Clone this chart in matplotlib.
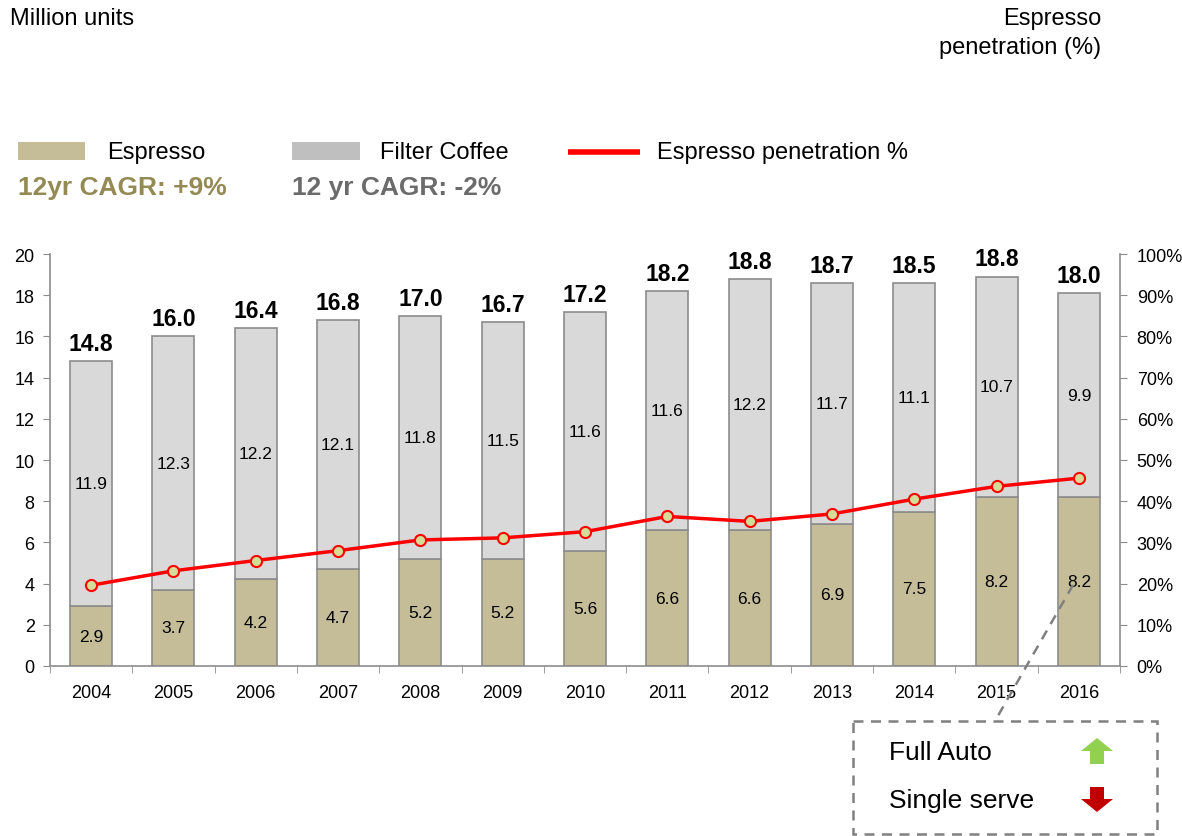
import numpy as np
import matplotlib
matplotlib.use("Agg")
from matplotlib import pyplot as plt
from matplotlib.patches import Rectangle, Polygon

plt.rcParams['font.family'] = ['Liberation Sans', 'DejaVu Sans']

years = ['2004', '2005', '2006', '2007', '2008', '2009', '2010',
         '2011', '2012', '2013', '2014', '2015', '2016']
espresso = [2.9, 3.7, 4.2, 4.7, 5.2, 5.2, 5.6, 6.6, 6.6, 6.9, 7.5, 8.2, 8.2]
filter_coffee = [11.9, 12.3, 12.2, 12.1, 11.8, 11.5, 11.6, 11.6, 12.2, 11.7, 11.1, 10.7, 9.9]
totals = [14.8, 16.0, 16.4, 16.8, 17.0, 16.7, 17.2, 18.2, 18.8, 18.7, 18.5, 18.8, 18.0]
penetration = [19.6, 23.1, 25.6, 28.0, 30.6, 31.1, 32.6, 36.3, 35.1, 36.9, 40.5, 43.6, 45.6]

esp_col = '#c4bd97'
fil_col = '#d9d9d9'
edge_col = '#8c8c8c'
axis_col = '#8c8c8c'

fig = plt.figure(figsize=(11.82, 8.37), dpi=100)
ax = fig.add_axes([50 / 1182, 1 - 667 / 837, 1070 / 1182, 412 / 837])

x = np.arange(len(years))
w = 0.51
ax.bar(x, espresso, w, color=esp_col, edgecolor=edge_col, linewidth=1.2, zorder=2)
ax.bar(x, filter_coffee, w, bottom=espresso, color=fil_col, edgecolor=edge_col, linewidth=1.2, zorder=2)

for i in range(len(years)):
    ax.text(x[i], espresso[i] / 2, f'{espresso[i]:.1f}', ha='center', va='center', fontsize=12.5, zorder=4)
    ax.text(x[i], espresso[i] + filter_coffee[i] / 2, f'{filter_coffee[i]:.1f}', ha='center', va='center',
            fontsize=12.5, zorder=4)
    ax.text(x[i], espresso[i] + filter_coffee[i] + 0.3, f'{totals[i]:.1f}', ha='center', va='bottom',
            fontsize=16.5, fontweight='bold', zorder=4)

ax.set_xlim(-0.5, len(years) - 0.5)
ax.set_ylim(0, 20)
ax.set_yticks(np.arange(0, 21, 2))
ax.set_xticks(x)
ax.set_xticklabels(years)
ax.set_xticks(np.arange(-0.5, len(years), 1), minor=True)
ax.tick_params(axis='x', which='major', length=0, pad=13, labelsize=13)
ax.tick_params(axis='x', which='minor', length=5, color=axis_col, direction='out')
ax.tick_params(axis='y', length=5, color=axis_col, labelsize=13, pad=6)
for s in ['top', 'right']:
    ax.spines[s].set_visible(False)
for s in ['left', 'bottom']:
    ax.spines[s].set_color(axis_col)
    ax.spines[s].set_linewidth(1.2)

ax2 = ax.twinx()
ax2.set_ylim(0, 100)
ax2.set_yticks(np.arange(0, 101, 10))
ax2.set_yticklabels([f'{v}%' for v in range(0, 101, 10)])
ax2.tick_params(axis='y', length=5, color=axis_col, labelsize=13, pad=7)
for s in ['top', 'left', 'bottom']:
    ax2.spines[s].set_visible(False)
ax2.spines['right'].set_color(axis_col)
ax2.spines['right'].set_linewidth(1.2)
ax2.plot(x, penetration, color='#ff0000', linewidth=2.5, marker='o', markersize=8,
         markerfacecolor='#d4dc98', markeredgecolor='#ff0000', markeredgewidth=1.5, zorder=5)

# overlay in pixel coordinates for headers, legend and callout box
ov = fig.add_axes([0, 0, 1, 1], zorder=10)
ov.set_xlim(0, 1182)
ov.set_ylim(837, 0)
ov.axis('off')
ov.patch.set_alpha(0)

ov.text(10, 19, 'Million units', fontsize=17, va='center', ha='left')
ov.text(1101, 19, 'Espresso', fontsize=17, va='center', ha='right')
ov.text(1101, 48, 'penetration (%)', fontsize=17, va='center', ha='right')

ov.add_patch(Rectangle((18, 143), 67, 18, facecolor=esp_col, edgecolor='none'))
ov.text(107, 153, 'Espresso', fontsize=17, va='center')
ov.text(18, 188, '12yr CAGR: +9%', fontsize=19, fontweight='bold', color='#948a54', va='center')
ov.add_patch(Rectangle((292, 143), 68, 18, facecolor='#bfbfbf', edgecolor='none'))
ov.text(380, 153, 'Filter Coffee', fontsize=17, va='center')
ov.text(292, 188, '12 yr CAGR: -2%', fontsize=19, fontweight='bold', color='#6b6b6b', va='center')
ov.plot([568, 640], [153, 153], color='#ff0000', linewidth=4, solid_capstyle='butt')
ov.text(657, 153, 'Espresso penetration %', fontsize=17, va='center')

# callout box
ov.plot([1073, 995], [586, 722], color='#808080', linewidth=1.8, linestyle=(0, (4, 3)))
ov.add_patch(Rectangle((853, 722), 304, 113, facecolor='white', edgecolor='#808080',
                       linewidth=1.8, linestyle=(0, (4, 3))))
ov.text(889, 753, 'Full Auto', fontsize=19, va='center')
ov.text(889, 801, 'Single serve', fontsize=19, va='center')
ov.add_patch(Polygon([(1081, 752), (1097, 739), (1113, 752), (1104, 752), (1104, 765), (1090, 765), (1090, 752)],
                     closed=True, facecolor='#92d050', edgecolor='none'))
ov.add_patch(Polygon([(1090, 788), (1104, 788), (1104, 800), (1113, 800), (1097, 813), (1081, 800), (1090, 800)],
                     closed=True, facecolor='#c00000', edgecolor='none'))

fig.savefig('out.png', dpi=100)
